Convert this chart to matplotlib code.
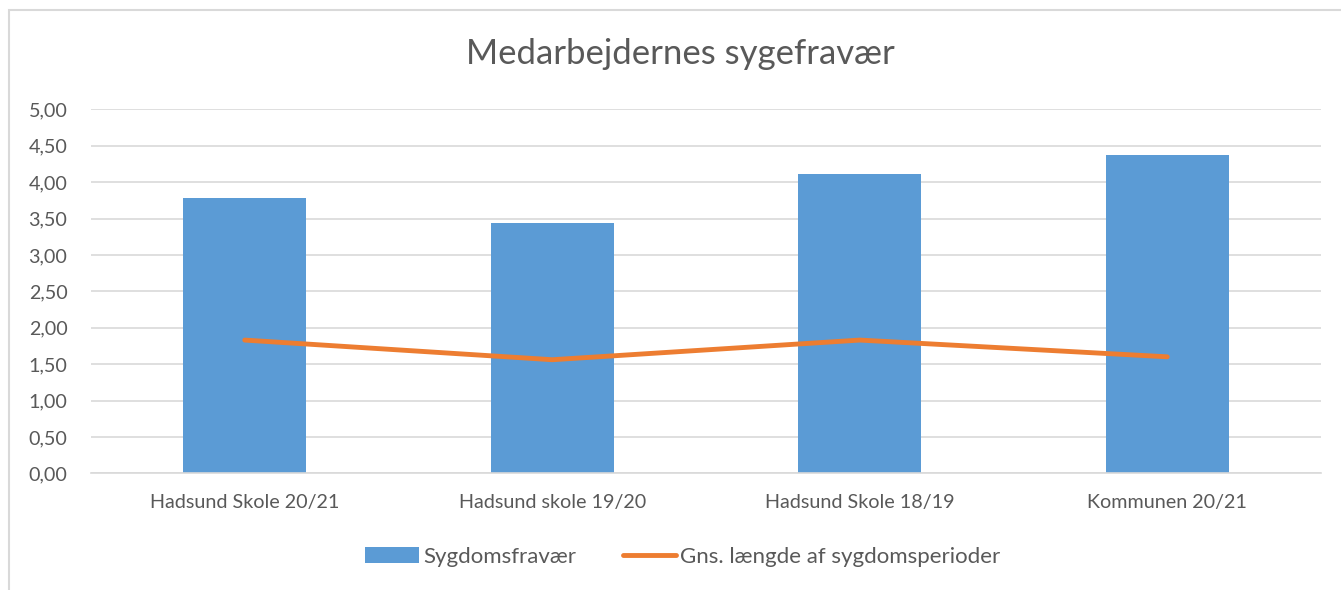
import matplotlib.pyplot as plt
from matplotlib.patches import Rectangle

plt.rcParams['font.family'] = ['Lato', 'DejaVu Sans']

categories = ['Hadsund Skole 20/21', 'Hadsund skole 19/20', 'Hadsund Skole 18/19', 'Kommunen 20/21']
sygdomsfravaer = [3.78, 3.44, 4.11, 4.37]
gns_laengde = [1.83, 1.56, 1.83, 1.60]
yticks = [0, 0.5, 1, 1.5, 2, 2.5, 3, 3.5, 4, 4.5, 5]

txt = '#595959'
fig = plt.figure(figsize=(13.41, 5.90), dpi=100)
# chart frame
fig.patches.append(Rectangle((9/1341, -0.1), 1.2, 1 - 10/590 + 0.1, transform=fig.transFigure,
                             fill=False, edgecolor='#d9d9d9', lw=1.5))

ax = fig.add_axes([91/1341, 1 - 473.3/590, (1321 - 91)/1341, (473.3 - 109.3)/590])
x = range(len(categories))
bars = ax.bar(x, sygdomsfravaer, width=0.4, color='#5B9BD5', label='Sygdomsfravær', zorder=2)
line, = ax.plot(x, gns_laengde, color='#ED7D31', lw=3.5, solid_capstyle='round',
                label='Gns. længde af sygdomsperioder', zorder=3)

ax.set_xlim(-0.5, len(categories) - 0.5)
ax.set_ylim(0, 5)
ax.set_yticks(yticks)
ax.set_yticklabels([f'{v:.2f}'.replace('.', ',') for v in yticks])
ax.set_xticks(list(x))
ax.set_xticklabels(categories)
ax.tick_params(axis='both', length=0, labelsize=14.2, colors=txt)
ax.tick_params(axis='x', pad=15)
ax.tick_params(axis='y', pad=17)
ax.grid(axis='y', color='#d9d9d9', lw=1.2, zorder=0)
for s in ax.spines.values():
    s.set_visible(False)
ax.spines['bottom'].set_visible(True)
ax.spines['bottom'].set_color('#d9d9d9')
ax.spines['bottom'].set_linewidth(1.2)

fig.text(680/1341, 1 - 54/590, 'Medarbejdernes sygefravær', ha='center', va='center',
         fontsize=25, color=txt)

fig.legend(handles=[bars, line], loc='center', bbox_to_anchor=(683/1341, 1 - 557/590), ncol=2,
           frameon=False, fontsize=16, labelcolor=txt, handlelength=2.4, handletextpad=0.2,
           columnspacing=2.1)

fig.savefig('out.png', dpi=100)
